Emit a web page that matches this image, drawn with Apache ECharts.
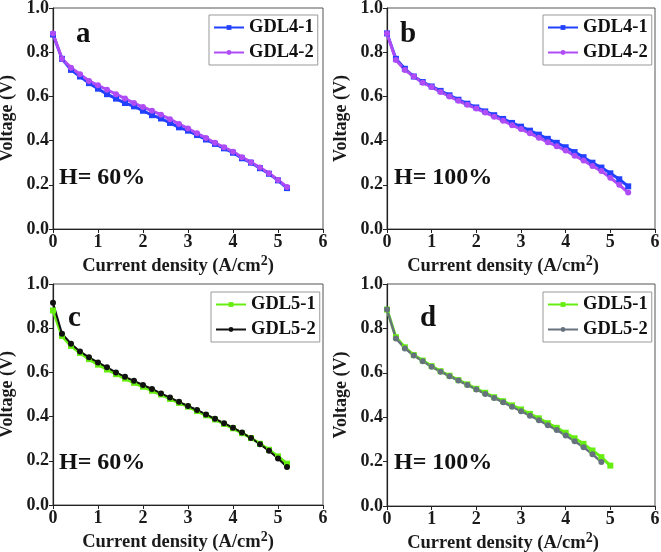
<!DOCTYPE html>
<html><head><meta charset="utf-8">
<script src="https://cdn.jsdelivr.net/npm/echarts@6/dist/echarts.min.js"></script>
<style>html,body{margin:0;padding:0;background:#fff}#c{width:661px;height:552px}</style>
</head><body><div id="c"></div>
<script>
// x values (A/cm2)
const xA = [0,0.2,0.4,0.6,0.8,1.0,1.2,1.4,1.6,1.8,2.0,2.2,2.4,2.6,2.8,3.0,3.2,3.4,3.6,3.8,4.0,4.2,4.4,4.6,4.8,5.0,5.2];
const xB = [0,0.2,0.4,0.6,0.8,1.0,1.2,1.4,1.6,1.8,2.0,2.2,2.4,2.6,2.8,3.0,3.2,3.4,3.6,3.8,4.0,4.2,4.4,4.6,4.8,5.0,5.2,5.4];
const xD1 = [0,0.2,0.4,0.6,0.8,1.0,1.2,1.4,1.6,1.8,2.0,2.2,2.4,2.6,2.8,3.0,3.2,3.4,3.6,3.8,4.0,4.2,4.4,4.6,4.8,5.0];
const xD2 = [0,0.2,0.4,0.6,0.8,1.0,1.2,1.4,1.6,1.8,2.0,2.2,2.4,2.6,2.8,3.0,3.2,3.4,3.6,3.8,4.0,4.2,4.4,4.6,4.8];
// voltages (V)
const a_GDL4_1 = [0.88,0.77,0.72,0.69,0.66,0.635,0.61,0.59,0.57,0.555,0.535,0.515,0.5,0.48,0.46,0.445,0.425,0.405,0.385,0.365,0.345,0.32,0.3,0.275,0.25,0.22,0.185];
const a_GDL4_2 = [0.885,0.77,0.73,0.70,0.67,0.65,0.63,0.61,0.59,0.57,0.552,0.535,0.517,0.497,0.475,0.455,0.433,0.412,0.39,0.37,0.35,0.325,0.302,0.278,0.252,0.222,0.19];
const b_GDL4_1 = [0.885,0.77,0.725,0.69,0.665,0.645,0.625,0.605,0.585,0.567,0.55,0.532,0.515,0.498,0.48,0.463,0.445,0.427,0.408,0.39,0.37,0.348,0.325,0.3,0.278,0.252,0.225,0.193];
const b_GDL4_2 = [0.885,0.765,0.72,0.69,0.662,0.642,0.62,0.6,0.58,0.562,0.545,0.527,0.508,0.49,0.47,0.452,0.433,0.413,0.393,0.375,0.355,0.332,0.31,0.285,0.262,0.232,0.2,0.165];
const c_GDL5_1 = [0.88,0.765,0.72,0.688,0.66,0.635,0.613,0.592,0.572,0.553,0.535,0.517,0.5,0.48,0.462,0.445,0.425,0.406,0.387,0.367,0.347,0.325,0.303,0.277,0.25,0.22,0.187];
const c_GDL5_2 = [0.915,0.775,0.73,0.695,0.668,0.645,0.623,0.6,0.58,0.562,0.543,0.525,0.505,0.486,0.467,0.448,0.43,0.41,0.39,0.37,0.35,0.328,0.303,0.275,0.245,0.21,0.172];
const d_GDL5_1 = [0.885,0.76,0.715,0.68,0.655,0.63,0.607,0.587,0.567,0.548,0.528,0.51,0.49,0.472,0.453,0.435,0.415,0.395,0.373,0.352,0.33,0.305,0.28,0.25,0.22,0.182];
const d_GDL5_2 = [0.885,0.755,0.71,0.678,0.652,0.627,0.605,0.585,0.565,0.545,0.525,0.505,0.487,0.467,0.447,0.427,0.407,0.386,0.364,0.342,0.318,0.292,0.265,0.233,0.198];
const xTicks = [0,1,2,3,4,5,6];
const yTicks = ['0.0','0.2','0.4','0.6','0.8','1.0'];
const panelLetters = ['a','b','c','d'];
const humidity = ['H= 60%','H= 100%','H= 60%','H= 100%'];

const F = '"Liberation Serif", "Times New Roman", serif';
const pair = (xs, ys) => xs.map((x, i) => [x, ys[i]]);
const grids = [
  {left:53, top:8, width:270, height:221},
  {left:387, top:8, width:268, height:221},
  {left:53, top:284, width:270, height:221},
  {left:387, top:284, width:268, height:222}
];
const nameShift = [20, 36, 20, 36];
const xAxes = grids.map((g, i) => ({
  type:'value', gridIndex:i, min:0, max:6, interval:1,
  name:'Current density (A/cm{s|2})', nameLocation:'middle', nameGap:25,
  nameTextStyle:{fontFamily:F, fontWeight:'bold', fontSize:18.5, color:'#1a1a1a', padding:[0, nameShift[i], 0, 0],
    rich:{s:{fontFamily:F, fontWeight:'bold', fontSize:14, verticalAlign:'top', padding:[0,0,11,0], color:'#1a1a1a'}}},
  axisLine:{lineStyle:{color:'#222', width:1.2}},
  axisTick:{length:4, lineStyle:{color:'#222'}},
  axisLabel:{fontFamily:F, fontWeight:'bold', fontSize:18, color:'#1a1a1a', margin:4,
    formatter: v => String(xTicks[Math.round(v)])},
  splitLine:{show:false}
}));
const yAxes = grids.map((g, i) => ({
  type:'value', gridIndex:i, min:0, max:1, interval:0.2,
  name:'Voltage (V)', nameLocation:'middle', nameGap:37,
  nameTextStyle:{fontFamily:F, fontWeight:'bold', fontSize:18, color:'#1a1a1a'},
  axisLine:{lineStyle:{color:'#222', width:1.2}},
  axisTick:{length:4, lineStyle:{color:'#222'}},
  axisLabel:{fontFamily:F, fontWeight:'bold', fontSize:18, color:'#1a1a1a', margin:4,
    formatter: v => yTicks[Math.round(v/0.2)]},
  splitLine:{show:false}
}));
function ser(name, idx, data, color, symbol) {
  return {type:'line', name, xAxisIndex:idx, yAxisIndex:idx, data,
    symbol, symbolSize:6, showSymbol:true,
    lineStyle:{color, width:3}, itemStyle:{color}, z: 2};
}
const ZW = '\u200b';
const series = [
  ser('GDL4-1', 0, pair(xA, a_GDL4_1), '#2140ff', 'rect'),
  ser('GDL4-2', 0, pair(xA, a_GDL4_2), '#b04cf5', 'circle'),
  ser('GDL4-1'+ZW, 1, pair(xB, b_GDL4_1), '#2140ff', 'rect'),
  ser('GDL4-2'+ZW, 1, pair(xB, b_GDL4_2), '#b04cf5', 'circle'),
  ser('GDL5-1', 2, pair(xA, c_GDL5_1), '#66ee11', 'rect'),
  ser('GDL5-2', 2, pair(xA, c_GDL5_2), '#111111', 'circle'),
  ser('GDL5-1'+ZW, 3, pair(xD1, d_GDL5_1), '#66ee11', 'rect'),
  ser('GDL5-2'+ZW, 3, pair(xD2, d_GDL5_2), '#66737f', 'circle')
];
series[5].lineStyle.width = 2;
series[7].lineStyle.width = 2.4;
const legPos = [[209,15],[543,15],[211,292],[543,292]];
const legNames = [['GDL4-1','GDL4-2'],['GDL4-1'+ZW,'GDL4-2'+ZW],['GDL5-1','GDL5-2'],['GDL5-1'+ZW,'GDL5-2'+ZW]];
const legends = legPos.map((p, i) => ({
  data: legNames[i], left:p[0], top:p[1], orient:'vertical',
  itemWidth:30, itemHeight:6, itemGap:6, padding:[3,4,3,4],
  borderColor:'#999', borderWidth:1, selectedMode:false,
  formatter: n => n.replace(ZW, ''),
  textStyle:{fontFamily:F, fontWeight:'bold', fontSize:18.5, color:'#111'}
}));
const letterPos = [[76,20],[400,20],[68,304],[420,304]];
const hPos = [[59,166],[394,166],[59,451],[394,451]];
const graphic = [];
letterPos.forEach((p, i) => graphic.push({type:'text', left:p[0], top:p[1],
  style:{text:panelLetters[i], font:'bold 29px '+F, fill:'#111'}}));
hPos.forEach((p, i) => graphic.push({type:'text', left:p[0], top:p[1],
  style:{text:humidity[i], font:'bold 24px '+F, fill:'#111'}}));
const chart = echarts.init(document.getElementById('c'));
chart.setOption({
  animation:false,
  grid: grids.map(g => Object.assign({show:true, borderColor:'#555', borderWidth:1, containLabel:false, outerBoundsMode:'none'}, g)),
  xAxis: xAxes, yAxis: yAxes, legend: legends, series, graphic
});
</script></body></html>
